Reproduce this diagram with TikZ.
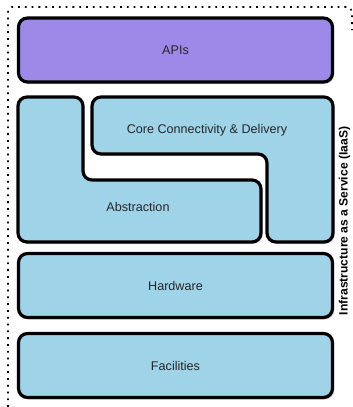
\documentclass[tikz,border=0pt]{standalone}
\usepackage{fontspec}
\setmainfont{Liberation Sans}
\usetikzlibrary{shadows}

\definecolor{apipurple}{RGB}{157,137,232}
\definecolor{layerblue}{RGB}{158,211,232}

\tikzset{
    layer/.style={draw=black,line width=3.2pt,rounded corners=9pt,fill=layerblue,
        drop shadow={opacity=0.35,shadow xshift=1.5pt,shadow yshift=-2pt}},
    layertext/.style={text=black!85,font=\fontsize{12.6}{14}\selectfont},
    boxnode/.style={layer,layertext,minimum width=314pt,minimum height=64pt}
}

\begin{document}
\begin{tikzpicture}[x=1pt,y=-1pt]
    \useasboundingbox (0,0) rectangle (353,407);
    % outer frame
    \draw[line width=1.6pt,dash pattern=on 1.8pt off 5pt] (8,407) -- (8,12) to[out=90,in=180] (12,7) -- (347,7) to[out=0,in=90] (352,12) -- (352,30);
    % top and bottom layers
    \node[boxnode,fill=apipurple] (apis) at (175.5,50) {APIs};
    \node[boxnode] (hardware) at (175.5,285.5) {Hardware};
    \node[boxnode] (facilities) at (175.5,365.5) {Facilities};
    % interlocking middle layers
    \draw[layer] (18,97) -- (83,97) -- (83,180) -- (261,180) -- (261,242) -- (18,242) -- cycle;
    \draw[layer] (92,97) -- (333,97) -- (333,242) -- (267,242) -- (267,154) -- (92,154) -- cycle;
    \node[layertext] (abstraction) at (138,207) {Abstraction};
    \node[layertext] (core) at (207,130) {Core Connectivity \& Delivery};
    \node[rotate=90,text=black,font=\fontsize{12.1}{14}\selectfont\bfseries] (iaas) at (344.5,221) {Infrastructure as a Service (IaaS)};
\end{tikzpicture}
\end{document}
